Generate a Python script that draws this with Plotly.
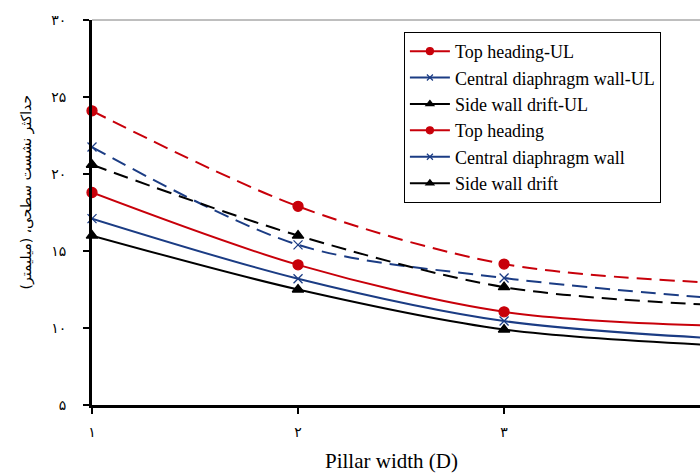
import plotly.graph_objects as go

# Pillar width (in tunnel diameters D)
pillar_width = [1, 2, 3, 4]

# Maximum surface settlement (mm)
top_heading_ul = [24.1, 17.9, 14.15, 12.95]
central_wall_ul = [21.75, 15.4, 13.25, 11.95]
side_drift_ul = [20.6, 16.0, 12.65, 11.5]
top_heading = [18.8, 14.1, 11.05, 10.15]
central_wall = [17.1, 13.2, 10.45, 9.35]
side_drift = [16.0, 12.5, 9.9, 8.9]

x_tick_vals = [1, 2, 3, 4]
x_tick_text = ["۱", "۲", "۳", "۴"]
y_tick_vals = [5, 10, 15, 20, 25, 30]
y_tick_text = ["۵", "۱۰", "۱۵", "۲۰", "۲۵", "۳۰"]

RED = "#C8000A"
BLUE = "#1B3C84"
BLACK = "#000000"
SERIF = "Liberation Serif, Times New Roman, DejaVu Sans, serif"

series = [
    ("Top heading-UL", top_heading_ul, RED, "circle", 10, "15px,8px"),
    ("Central diaphragm wall-UL", central_wall_ul, BLUE, "x-thin", 9, "15px,8px"),
    ("Side wall drift-UL", side_drift_ul, BLACK, "triangle-up", 10, "15px,8px"),
    ("Top heading", top_heading, RED, "circle", 10, "solid"),
    ("Central diaphragm wall", central_wall, BLUE, "x-thin", 9, "solid"),
    ("Side wall drift", side_drift, BLACK, "triangle-up", 10, "solid"),
]

fig = go.Figure()

for name, vals, color, symbol, size, dash in series:
    fig.add_trace(go.Scatter(
        x=pillar_width, y=vals, mode="lines+markers", name=name,
        line=dict(color=color, width=2, dash=dash, shape="spline", smoothing=0.9),
        marker=dict(symbol=symbol, size=size, color=color,
                    line=dict(color=color, width=1.3)),
        showlegend=False, cliponaxis=False,
    ))

# Legend entries drawn with solid line samples
for name, vals, color, symbol, size, dash in series:
    fig.add_trace(go.Scatter(
        x=[None], y=[None], mode="lines+markers", name=name,
        line=dict(color=color, width=2),
        marker=dict(symbol=symbol, size=7 if symbol != "x-thin" else 6, color=color,
                    line=dict(color=color, width=1.2)),
    ))

fig.update_layout(
    width=700, height=473,
    margin=dict(l=92, r=0, t=20, b=68),
    paper_bgcolor="white", plot_bgcolor="white",
    font=dict(family=SERIF, color="black", size=16),
    legend=dict(
        x=0.513, y=0.969, xanchor="left", yanchor="top",
        bgcolor="white", bordercolor="black", borderwidth=1,
        font=dict(family=SERIF, size=18, color="black"),
        tracegroupgap=0, itemwidth=40,
    ),
    showlegend=True,
)

fig.update_xaxes(
    range=[1, 3.951], tickvals=x_tick_vals, ticktext=x_tick_text,
    showgrid=False, zeroline=False,
    showline=True, linecolor="black", linewidth=3,
    ticks="outside", ticklen=6, tickwidth=2, tickcolor="black",
    ticklabelstandoff=6, tickfont=dict(family="DejaVu Sans", size=14),
)
fig.update_yaxes(
    range=[5, 30], tickvals=y_tick_vals, ticktext=y_tick_text,
    showgrid=False, zeroline=False,
    showline=True, linecolor="black", linewidth=3,
    ticks="outside", ticklen=6, tickwidth=2, tickcolor="black",
    ticklabelstandoff=14, tickfont=dict(family="DejaVu Sans", size=14),
)

# Thin frame line along the top of the plot area
fig.add_shape(type="line", xref="paper", yref="paper", x0=0, x1=1, y0=1, y1=1,
              line=dict(color="#7F7F7F", width=1))

fig.add_annotation(
    text="Pillar width (D)", xref="paper", yref="paper",
    x=0.493, y=-0.145, showarrow=False, xanchor="center", yanchor="middle",
    font=dict(family=SERIF, size=21, color="black"),
)
fig.add_annotation(
    text="حداکثر نشست سطحی، (میلیمتر)", xref="paper", yref="paper",
    x=-0.108, y=0.553, showarrow=False, textangle=-90,
    xanchor="center", yanchor="middle",
    font=dict(family="DejaVu Sans, Noto Sans", size=14, color="black"),
)

fig.write_html("out.html")
